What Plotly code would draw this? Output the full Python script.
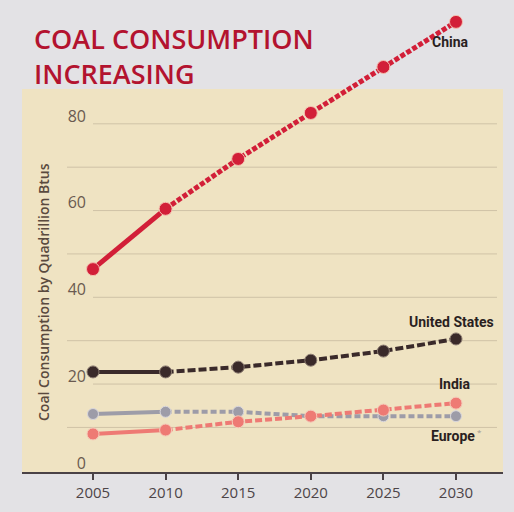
import plotly.graph_objects as go

years = [2005, 2010, 2015, 2020, 2025, 2030]
china = [44.7, 58.6, 70.1, 80.7, 91.3, 101.7]
united_states = [21.0, 21.0, 22.1, 23.7, 25.8, 28.6]
europe = [11.3, 11.8, 11.8, 10.8, 10.8, 10.8]
india = [6.7, 7.6, 9.5, 10.8, 12.2, 13.8]
y_tick_vals = [0, 20, 40, 60, 80]
x_tick_vals = [2005, 2010, 2015, 2020, 2025, 2030]
# faint rules sit at the baseline of each 10-unit step
grid_vals = [8.2, 18.2, 28.2, 38.2, 48.2, 58.2, 68.2, 78.2]
title_lines = ["COAL CONSUMPTION", "INCREASING"]

W, H = 514, 512
ML, MR, MT, MB = 22, 11, 10, 40
PW = W - ML - MR
PH = H - MT - MB

series = [
    ("Europe", europe, "#9d9ca8", 4, 11, "6px,3px", "#d8d6dc"),
    ("India", india, "#ee7a74", 4, 12, "7px,3px", "#f6c9b8"),
    ("United States", united_states, "#3a2a2a", 4, 12, "8px,3px", "#8a7a70"),
    ("China", china, "#d21f38", 5, 13, "5px,2px", "#f4c0b0"),
]

fig = go.Figure()
for name, vals, color, lw, ms, dash, rim in series:
    fig.add_trace(go.Scatter(
        x=years[:2], y=vals[:2], mode="lines",
        line=dict(color=color, width=lw), showlegend=False, hoverinfo="skip"))
    fig.add_trace(go.Scatter(
        x=years[1:], y=vals[1:], mode="lines",
        line=dict(color=color, width=lw, dash=dash), showlegend=False, hoverinfo="skip"))
    fig.add_trace(go.Scatter(
        x=years, y=vals, mode="markers", name=name,
        marker=dict(color=color, size=ms, line=dict(color=rim, width=1)),
        showlegend=False))

def px_x(p):
    return (p - ML) / PW

def px_y(p):
    return (H - MB - p) / PH

panel_top_px = 89
fig.add_shape(type="rect", xref="paper", yref="paper", x0=0, x1=1, y0=0,
              y1=px_y(panel_top_px),
              fillcolor="#efe3c2", line=dict(width=0), layer="below")

for i, g in enumerate(grid_vals):
    start = 93 if i % 2 == 1 else 67
    fig.add_shape(type="line", xref="paper", yref="y", x0=px_x(start), x1=px_x(497),
                  y0=g, y1=g, line=dict(color="rgba(150,135,115,0.35)", width=1),
                  layer="below")

label_font = dict(family="Liberation Sans Narrow, Arial Narrow, Roboto, sans-serif",
                  size=14, color="#2a1f1f", weight="bold")
labels = [
    ("China", 2029.6, 97.0),
    ("United States", 2029.7, 32.6),
    ("India", 2029.9, 18.3),
    ("Europe", 2029.8, 6.2),
]
for txt, lx, ly in labels:
    fig.add_annotation(x=lx, y=ly, text=txt, showarrow=False, font=label_font,
                       xanchor="center", yanchor="middle")
fig.add_annotation(x=2031.6, y=7.2, text="*", showarrow=False,
                   font=dict(family="Open Sans, sans-serif", size=8, color="#a09890"),
                   xanchor="center", yanchor="middle")

fig.add_annotation(xref="paper", yref="paper",
                   x=px_x(33), y=px_y(18.5),
                   text="<br>".join(title_lines), showarrow=False,
                   xanchor="left", yanchor="top", align="left", borderpad=0,
                   font=dict(family="Open Sans, sans-serif", size=27,
                             color="#b3132f", weight=600))

fig.add_annotation(xref="paper", yref="paper",
                   x=px_x(43), y=px_y(292),
                   text="Coal Consumption by Quadrillion Btus", textangle=-90,
                   showarrow=False, xanchor="center", yanchor="middle",
                   font=dict(family="Open Sans, sans-serif", size=14,
                             color="#5a4a3e", weight=600))

px_per_unit = 4.3375
y0_px = 463
yr = [(y0_px - (H - MB)) / px_per_unit, (y0_px - MT) / px_per_unit]
px_per_year = (456 - 93) / 25
xr = [2005 - (93 - ML) / px_per_year, 2030 + (W - MR - 456) / px_per_year]

fig.update_layout(
    width=W, height=H,
    margin=dict(l=ML, r=MR, t=MT, b=MB, pad=0),
    paper_bgcolor="#e3e2e5", plot_bgcolor="rgba(0,0,0,0)",
    xaxis=dict(range=xr, tickvals=x_tick_vals, showgrid=False, zeroline=False,
               showline=True, linecolor="#4a4246", linewidth=1.5,
               ticks="outside", ticklen=6, tickcolor="#4a4246", tickwidth=1.5,
               tickfont=dict(family="Open Sans, sans-serif", size=15, color="#4d4548")),
    yaxis=dict(range=yr, tickvals=y_tick_vals, showgrid=False, zeroline=False,
               showline=False, ticks="", anchor="free",
               position=px_x(86),
               tickfont=dict(family="Open Sans, sans-serif", size=16, color="#6a5a50")),
)

fig.write_html("out.html")
